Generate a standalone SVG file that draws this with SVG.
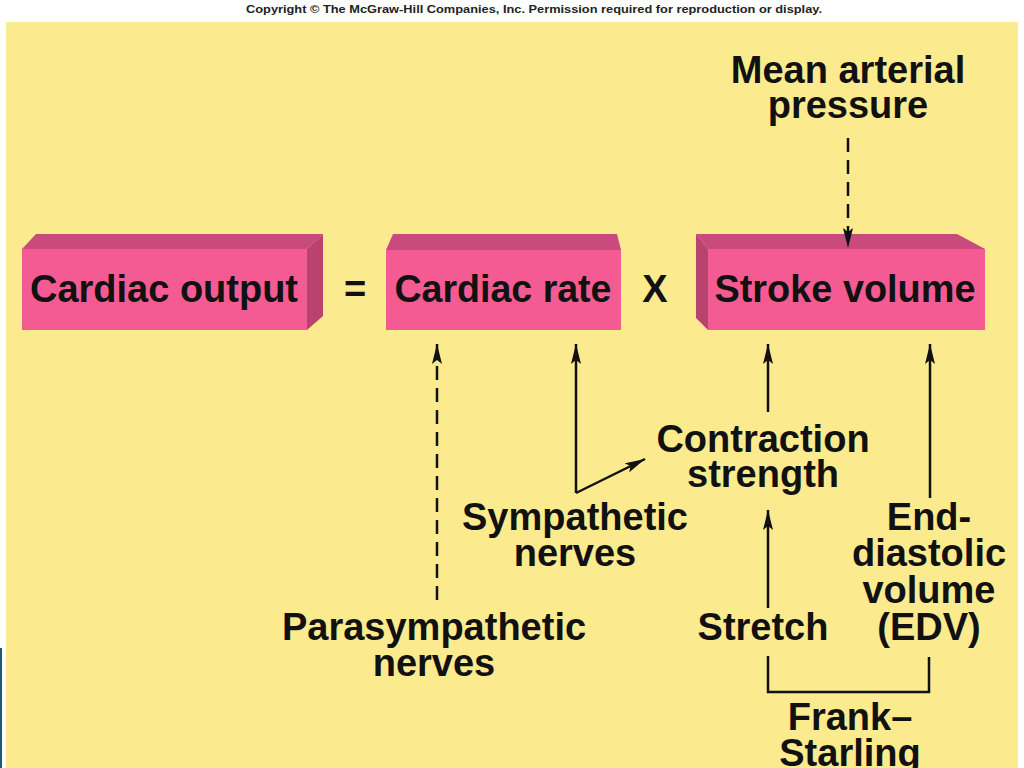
<svg xmlns="http://www.w3.org/2000/svg" width="1024" height="768" viewBox="0 0 1024 768">
<defs>
<style>
.t{font-family:"Liberation Sans",Arial,sans-serif;font-weight:bold;font-size:38px;fill:#111;text-anchor:middle}
.front{fill:#F45B93}
.top{fill:#C94A7C}
.side{fill:#B9426F}
.ln{stroke:#111;stroke-width:2.5;fill:none}
.dash{stroke-dasharray:14 8}
</style>
<marker id="ah" viewBox="0 0 20 10" refX="20" refY="5" markerWidth="20" markerHeight="10" markerUnits="userSpaceOnUse" orient="auto">
<path d="M0,0 L20,5 L0,10 L4,5 Z" fill="#111"/>
</marker>
</defs>
<rect x="0" y="0" width="1024" height="768" fill="#FFFFFF"/>
<rect x="6" y="22" width="1012" height="746" fill="#FBEA8E"/>
<rect x="0" y="648" width="2" height="120" fill="#1B5F6E"/>
<text x="534" y="13" font-family="Liberation Sans,Arial,sans-serif" font-weight="bold" font-size="11" fill="#222" text-anchor="middle" textLength="576" lengthAdjust="spacingAndGlyphs">Copyright © The McGraw-Hill Companies, Inc. Permission required for reproduction or display.</text>

<g id="cardiac-output">
<polygon class="top" points="22,249 36,234 323,234 307,249"/>
<polygon class="side" points="307,249 323,234 323,316 307,330"/>
<rect class="front" x="22" y="249" width="285" height="81"/>
<text class="t" x="164" y="302" textLength="268" lengthAdjust="spacingAndGlyphs">Cardiac output</text>
</g>
<g id="equals"><text class="t" x="355" y="302">=</text></g>
<g id="cardiac-rate">
<polygon class="top" points="386,250 393,234 617,234 621,250"/>
<rect class="front" x="386" y="250" width="235" height="80"/>
<text class="t" x="503" y="302" textLength="217" lengthAdjust="spacingAndGlyphs">Cardiac rate</text>
</g>
<g id="times"><text class="t" x="655" y="302">X</text></g>
<g id="stroke-volume">
<polygon class="top" points="696,234 957,234 985,249 708,249"/>
<polygon class="side" points="696,234 708,249 708,330 696,318"/>
<rect class="front" x="708" y="249" width="277" height="81"/>
<text class="t" x="845" y="302" textLength="261" lengthAdjust="spacingAndGlyphs">Stroke volume</text>
</g>

<g id="mean-arterial-pressure">
<text class="t" x="848" y="83">Mean arterial</text>
<text class="t" x="848" y="118">pressure</text>
</g>
<g id="contraction-strength">
<text class="t" x="763" y="452">Contraction</text>
<text class="t" x="763" y="487">strength</text>
</g>
<g id="sympathetic-nerves">
<text class="t" x="575" y="530">Sympathetic</text>
<text class="t" x="575" y="566">nerves</text>
</g>
<g id="parasympathetic-nerves">
<text class="t" x="434" y="640">Parasympathetic</text>
<text class="t" x="434" y="676">nerves</text>
</g>
<g id="stretch">
<text class="t" x="763" y="640">Stretch</text>
</g>
<g id="edv">
<text class="t" x="929" y="530">End-</text>
<text class="t" x="929" y="566">diastolic</text>
<text class="t" x="929" y="603">volume</text>
<text class="t" x="929" y="640">(EDV)</text>
</g>
<g id="frank-starling">
<text class="t" x="850" y="730">Frank–</text>
<text class="t" x="850" y="766">Starling</text>
</g>

<g id="connectors">
<path class="ln dash" d="M848,138 L848,248" marker-end="url(#ah)"/>
<path class="ln dash" d="M437,600 L437,344" marker-end="url(#ah)"/>
<path class="ln" d="M576,493 L576,344"  marker-end="url(#ah)"/>
<path class="ln" d="M576,493 L645,459" marker-end="url(#ah)"/>
<path class="ln" d="M768,412 L768,344" marker-end="url(#ah)"/>
<path class="ln" d="M768,608 L768,510" marker-end="url(#ah)"/>
<path class="ln" d="M930,498 L930,344" marker-end="url(#ah)"/>
<path class="ln" d="M768,656 L768,692 L929,692 L929,657"/>
</g>
</svg>
